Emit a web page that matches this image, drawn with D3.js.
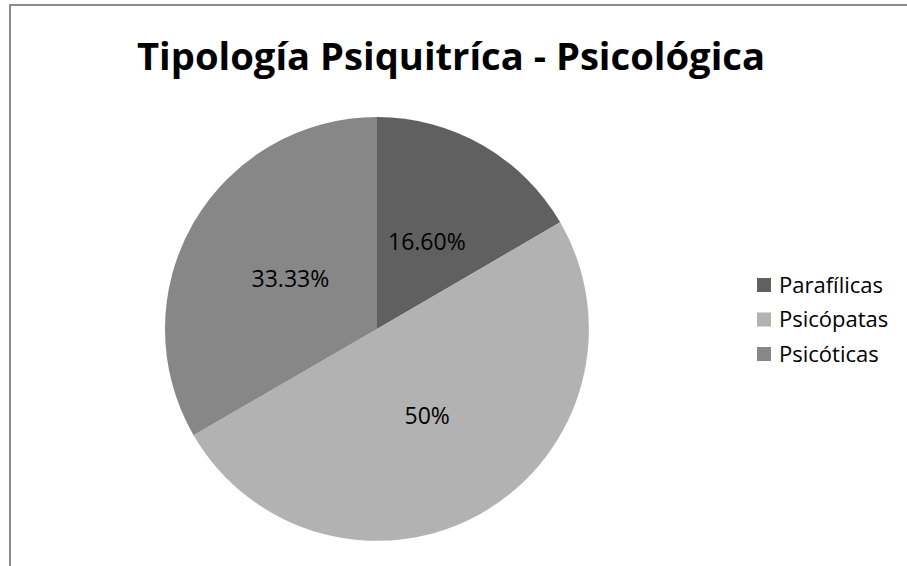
<!DOCTYPE html>
<html>
<head>
<meta charset="utf-8">
<script src="https://cdn.jsdelivr.net/npm/d3@7"></script>
<style>
  body { margin: 0; background: #fff; }
  svg { display: block; }
</style>
</head>
<body>
<div id="chart"></div>
<script>
// chart data
const categories = ["Parafílicas", "Psicópatas", "Psicóticas"];
const values = [16.6, 50, 33.33];
const labels = ["16.60%", "50%", "33.33%"];
const colors = ["#606060", "#b2b2b2", "#878787"];

const width = 907, height = 566;
const cx = 377, cy = 329, radius = 212;
const font = "'Open Sans', sans-serif";

const svg = d3.select("#chart")
    .append("svg")
    .attr("width", width)
    .attr("height", height);

// chart frame (only top and left edges visible)
svg.append("rect")
    .attr("x", 10).attr("y", 5)
    .attr("width", width + 20).attr("height", height + 20)
    .attr("fill", "#fff")
    .attr("stroke", "#8a8a8a")
    .attr("stroke-width", 2);

// title
svg.append("text")
    .attr("x", 451)
    .attr("y", 70)
    .attr("text-anchor", "middle")
    .attr("font-family", font)
    .attr("font-weight", "bold")
    .attr("font-size", 38)
    .attr("textLength", 628)
    .attr("lengthAdjust", "spacingAndGlyphs")
    .text("Tipología Psiquitríca - Psicológica");

const data = categories.map((c, i) => ({name: c, value: values[i], label: labels[i], color: colors[i]}));

const pie = d3.pie().sort(null).value(d => d.value);
const arc = d3.arc().innerRadius(0).outerRadius(radius);
const labelArc = d3.arc().innerRadius(100).outerRadius(100);

const g = svg.append("g").attr("transform", `translate(${cx},${cy})`);

g.selectAll("path")
    .data(pie(data))
    .join("path")
    .attr("d", arc)
    .attr("fill", d => d.data.color);

g.selectAll("text")
    .data(pie(data))
    .join("text")
    .attr("transform", d => `translate(${labelArc.centroid(d)})`)
    .attr("text-anchor", "middle")
    .attr("dy", "0.35em")
    .attr("font-family", font)
    .attr("font-size", 23)
    .attr("fill", "#000")
    .text(d => d.data.label);

// legend
const legend = svg.append("g").attr("transform", "translate(757,278)");
const items = legend.selectAll("g")
    .data(data)
    .join("g")
    .attr("transform", (d, i) => `translate(0,${i * 34.5})`);

items.append("rect")
    .attr("width", 14).attr("height", 14)
    .attr("fill", d => d.color);

items.append("text")
    .attr("x", 22)
    .attr("y", 7)
    .attr("dy", "0.35em")
    .attr("font-family", font)
    .attr("font-size", 22)
    .attr("fill", "#000")
    .text(d => d.name);
</script>
</body>
</html>
